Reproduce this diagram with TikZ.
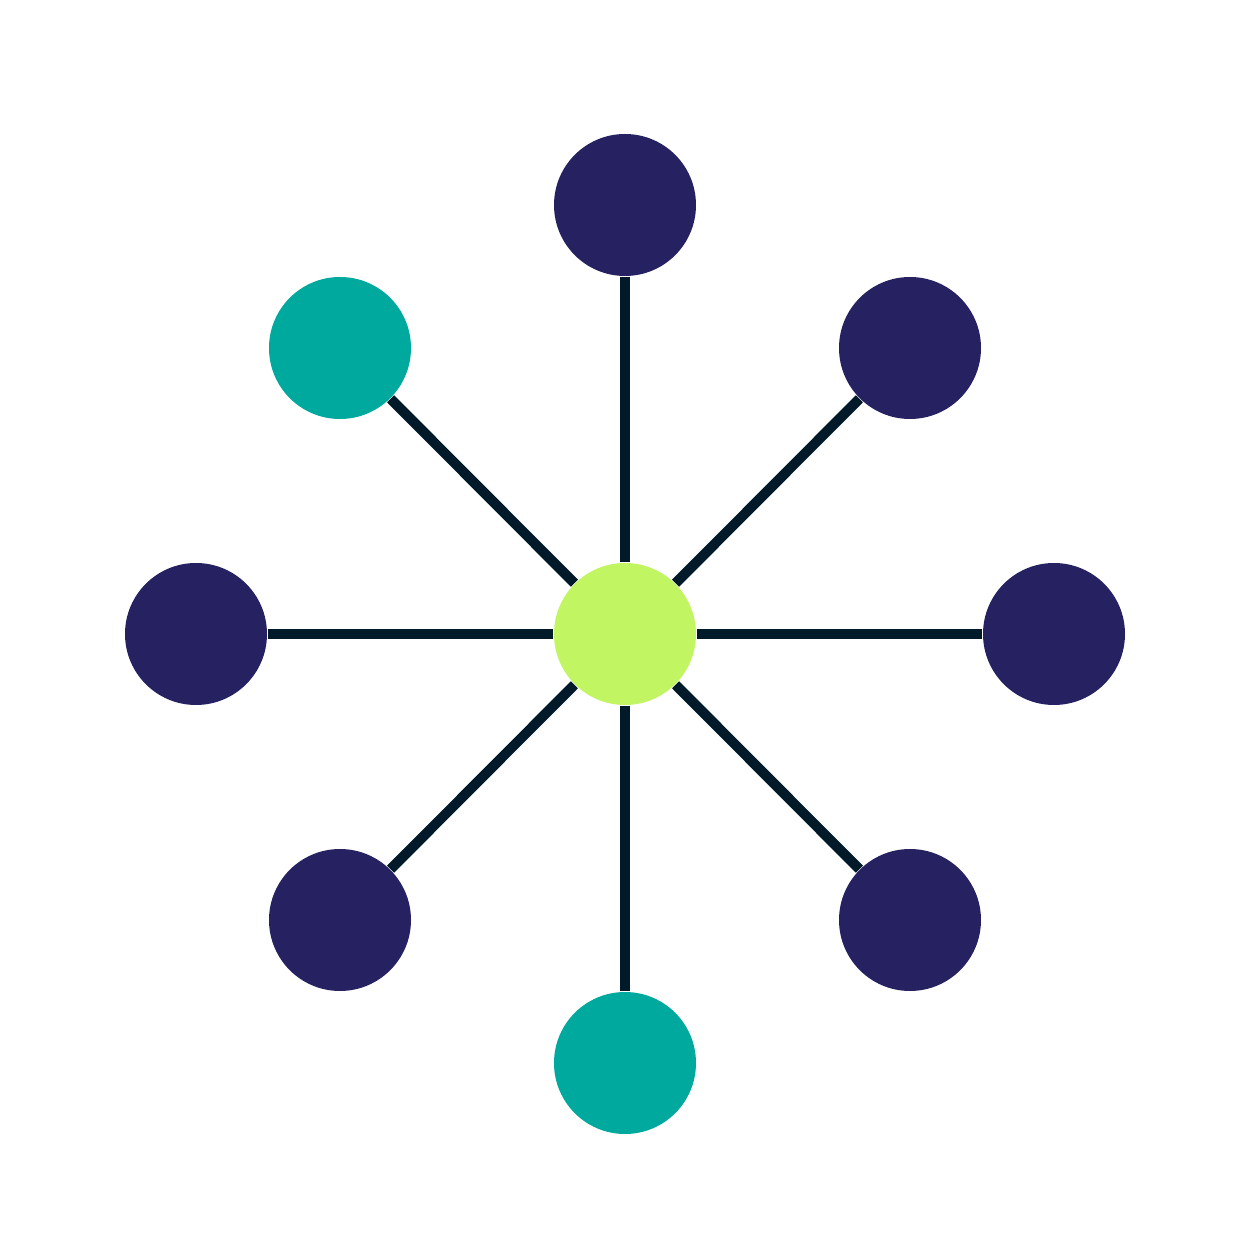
\documentclass[tikz,border=0pt]{standalone}
\usetikzlibrary{positioning}

\definecolor{navy}{HTML}{262262}
\definecolor{teal}{HTML}{00A99D}
\definecolor{lime}{HTML}{C2F562}
\definecolor{wire}{HTML}{001A29}

\begin{document}
\begin{tikzpicture}
  \tikzset{hub/.style = {shape=circle,fill=lime,minimum size=1.42cm,inner sep=0pt}}
  \tikzset{leaf/.style = {shape=circle,fill=navy,minimum size=1.42cm,inner sep=0pt}}
  \tikzset{spoke/.style = {draw=wire,line width=0.1cm}}

  \useasboundingbox (-6.25,-6.16) rectangle (6.25,6.34);

  \node[hub] (ctr) at (0,0) {};
  \node[leaf] (top) at (0,4.29) {};
  \node[leaf] (ne) at (2.85,2.86) {};
  \node[leaf] (rgt) at (4.29,0) {};
  \node[leaf] (se) at (2.85,-2.86) {};
  \node[leaf,fill=teal] (bot) at (0,-4.29) {};
  \node[leaf] (sw) at (-2.85,-2.86) {};
  \node[leaf] (lft) at (-4.29,0) {};
  \node[leaf,fill=teal] (nw) at (-2.85,2.86) {};

  \begin{scope}[on background layer/.style={}]
  \foreach \n in {top,ne,rgt,se,bot,sw,lft,nw}
    \draw[spoke] (ctr) -- (\n);
  \end{scope}

\end{tikzpicture}
\end{document}
